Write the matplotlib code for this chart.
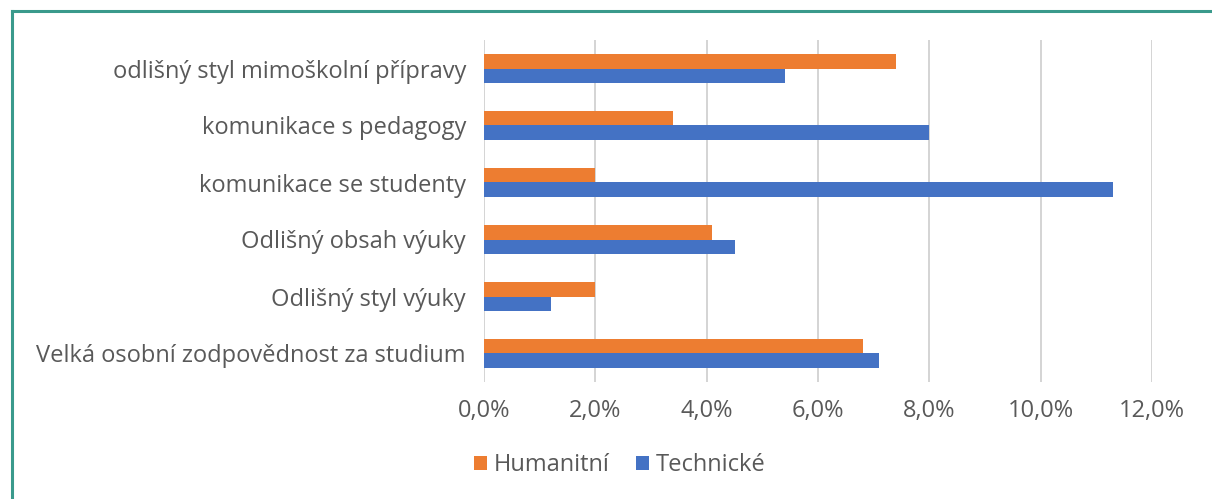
import matplotlib.pyplot as plt
from matplotlib.lines import Line2D
from matplotlib.ticker import FuncFormatter
import numpy as np

# data (bottom to top, as drawn)
categories = ['Velká osobní zodpovědnost za studium', 'Odlišný styl výuky',
              'Odlišný obsah výuky', 'komunikace se studenty',
              'komunikace s pedagogy', 'odlišný styl mimoškolní přípravy']
humanitni = [6.8, 2.0, 4.1, 2.0, 3.4, 7.4]
technicke = [7.1, 1.2, 4.5, 11.3, 8.0, 5.4]
xticks = [0, 2, 4, 6, 8, 10, 12]

plt.rcParams['font.family'] = ['Open Sans', 'DejaVu Sans']
text_col = '#595959'

fig = plt.figure(figsize=(12.12, 4.99), dpi=100)
ax = fig.add_axes([484/1212, 1 - 382/499, (1152-484)/1212, (382-40)/499])

y = np.arange(len(categories))
h = 0.255
ax.barh(y + h/2, humanitni, height=h, color='#ed7d31', label='Humanitní', zorder=3)
ax.barh(y - h/2, technicke, height=h, color='#4472c4', label='Technické', zorder=3)

ax.set_xlim(0, 12)
ax.set_ylim(-0.5, len(categories) - 0.5)
ax.set_xticks(xticks)
ax.xaxis.set_major_formatter(FuncFormatter(lambda v, p: f'{v:.1f}%'.replace('.', ',')))
ax.set_yticks(y)
ax.set_yticklabels(categories)
ax.tick_params(axis='both', length=0, labelsize=17, colors=text_col)
ax.tick_params(axis='x', pad=12)
ax.tick_params(axis='y', pad=13)
ax.grid(axis='x', color='#d4d4d4', linewidth=1.4, zorder=0)
for s in ax.spines.values():
    s.set_visible(False)

ax.legend(loc='center', bbox_to_anchor=(0.203, -0.243), ncol=2, frameon=False,
          fontsize=17, labelcolor=text_col, handlelength=0.55, handleheight=0.55,
          handletextpad=0.3, columnspacing=1.1)

# teal frame (left and top only)
fig.add_artist(Line2D([12/1212, 12/1212], [0, 1 - 11/499], color='#3a9a8c', lw=2.2))
fig.add_artist(Line2D([12/1212, 1], [1 - 11/499, 1 - 11/499], color='#3a9a8c', lw=2.2))

fig.savefig('out.png', dpi=100)
